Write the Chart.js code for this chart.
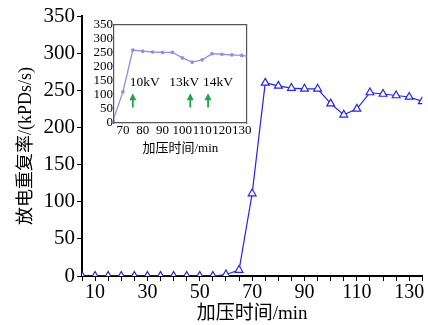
<!DOCTYPE html>
<html lang="zh">
<head>
<meta charset="utf-8">
<script src="https://cdn.jsdelivr.net/npm/chart.js"></script>
<style>
  body { margin: 0; background: #fff; }
  .wrap { position: relative; width: 428px; height: 325px; }
  #main { position: absolute; left: 0; top: 0; }
  #inset { position: absolute; left: 86px; top: 16px; }
</style>
</head>
<body>
<div class="wrap">
  <canvas id="main" width="428" height="325"></canvas>
  <canvas id="inset" width="166" height="140"></canvas>
</div>
<script>
// time (min) and discharge repetition rate (kPDs/s)
const times = [5, 10, 15, 20, 25, 30, 35, 40, 45, 50, 55, 60, 65, 70, 75, 80, 85, 90, 95, 100, 105, 110, 115, 120, 125, 130, 135];
const rates = [0, 0, 0, 0, 0, 0, 0, 0, 0, 0, 0, 2, 8, 111, 260, 256, 253, 252, 252, 232, 217, 225, 247, 245, 243, 241, 235];

const xTicksMain = [10, 30, 50, 70, 90, 110, 130];
const xTicksInset = [70, 80, 90, 100, 110, 120, 130];

// voltage steps marked in the inset
const stepTimes = [75, 104, 113];
const stepLabels = ['10kV', '13kV', '14kV'];

const serif = "'Liberation Serif', 'DejaVu Serif', serif";
const cjk = "'Liberation Serif', 'Noto Sans CJK SC', serif";
const points = times.map((t, i) => ({ x: t, y: rates[i] }));

new Chart(document.getElementById('main'), {
  type: 'line',
  data: {
    datasets: [{
      data: points,
      borderColor: '#2323f5',
      borderWidth: 1.2,
      pointStyle: 'triangle',
      pointRadius: 4.5,
      pointBackgroundColor: '#fff',
      pointBorderColor: '#2323f5',
      pointBorderWidth: 1.2,
      tension: 0
    }]
  },
  options: {
    responsive: false,
    animation: false,
    layout: { padding: { top: 16, right: 4 } },
    plugins: { legend: { display: false }, tooltip: { enabled: false } },
    scales: {
      x: {
        type: 'linear', min: 5, max: 135,
        afterBuildTicks: s => { s.ticks = times.map(v => ({ value: v })); },
        afterFit: s => { s.height = 49; },
        ticks: {
          autoSkip: false, maxRotation: 0, color: '#000', padding: 0,
          font: { family: serif, size: 20 },
          callback: v => xTicksMain.includes(v) ? v : ''
        },
        grid: { drawOnChartArea: false, color: '#000', tickLength: 5 },
        border: { color: '#000', width: 2 },
        title: { display: true, text: '加压时间/min', color: '#000', font: { family: cjk, size: 19 }, padding: 0 }
      },
      y: {
        min: 0, max: 350,
        afterFit: s => { s.width = 82; },
        ticks: {
          stepSize: 25, color: '#000', padding: 2,
          font: { family: serif, size: 21 },
          callback: v => v % 50 === 0 ? v : ''
        },
        grid: { drawOnChartArea: false, color: '#000', tickLength: 5 },
        border: { color: '#000', width: 2 },
        title: { display: true, text: '放电重复率/(kPDs/s)', color: '#000', font: { family: cjk, size: 18 }, padding: { top: 15, bottom: 0 } }
      }
    }
  }
});

const stepMarks = {
  id: 'stepMarks',
  afterDatasetsDraw(chart) {
    const { ctx, scales: { x, y } } = chart;
    ctx.save();
    stepTimes.forEach((t, i) => {
      const px = x.getPixelForValue(t);
      const y0 = y.getPixelForValue(55), y1 = y.getPixelForValue(106);
      ctx.strokeStyle = '#22a447';
      ctx.fillStyle = '#22a447';
      ctx.lineWidth = 1.8;
      ctx.beginPath(); ctx.moveTo(px, y0); ctx.lineTo(px, y1 + 4); ctx.stroke();
      ctx.beginPath(); ctx.moveTo(px, y1); ctx.lineTo(px - 3.5, y1 + 7); ctx.lineTo(px + 3.5, y1 + 7); ctx.closePath(); ctx.fill();
      ctx.fillStyle = '#000';
      ctx.font = "13.5px " + serif;
      ctx.textBaseline = 'middle';
      ctx.textAlign = i === 0 ? 'left' : 'right';
      const off = i === 0 ? -3 : (i === 1 ? 9 : 25);
      ctx.fillText(stepLabels[i], px + off, y.getPixelForValue(144));
    });
    ctx.restore();
  }
};

new Chart(document.getElementById('inset'), {
  type: 'line',
  data: {
    datasets: [{
      data: points,
      borderColor: '#8f8fe6',
      borderWidth: 1.3,
      pointRadius: 1.2,
      pointBackgroundColor: '#8f8fe6',
      pointBorderColor: '#8f8fe6',
      tension: 0
    }]
  },
  options: {
    responsive: false,
    animation: false,
    layout: { padding: { top: 0, right: 5 } },
    plugins: { legend: { display: false }, tooltip: { enabled: false } },
    scales: {
      x: {
        type: 'linear', min: 65.5, max: 132.5,
        afterBuildTicks: s => { s.ticks = xTicksInset.map(v => ({ value: v })); },
        afterFit: s => { s.height = 33; },
        ticks: { autoSkip: false, maxRotation: 0, color: '#000', padding: 0, font: { family: serif, size: 13 } },
        grid: { drawOnChartArea: false, color: '#555', tickLength: 0 },
        border: { color: '#555', width: 1.2 },
        title: { display: true, text: '加压时间/min', color: '#000', font: { family: cjk, size: 13 }, padding: 0 }
      },
      x2: {
        type: 'linear', position: 'top', min: 65.5, max: 132.5,
        ticks: { display: false }, grid: { display: false }, border: { color: '#555', width: 1.2 }
      },
      y: {
        min: 0, max: 350,
        afterFit: s => { s.width = 28; },
        ticks: { stepSize: 50, autoSkip: false, color: '#000', padding: 1, font: { family: serif, size: 13 } },
        grid: { drawOnChartArea: false, color: '#555', tickLength: 0 },
        border: { color: '#555', width: 1.2 }
      },
      y2: {
        position: 'right', min: 0, max: 350,
        ticks: { display: false }, grid: { display: false }, border: { color: '#555', width: 1.2 },
        afterFit: s => { s.width = 0; }
      }
    }
  },
  plugins: [stepMarks]
});
</script>
</body>
</html>
